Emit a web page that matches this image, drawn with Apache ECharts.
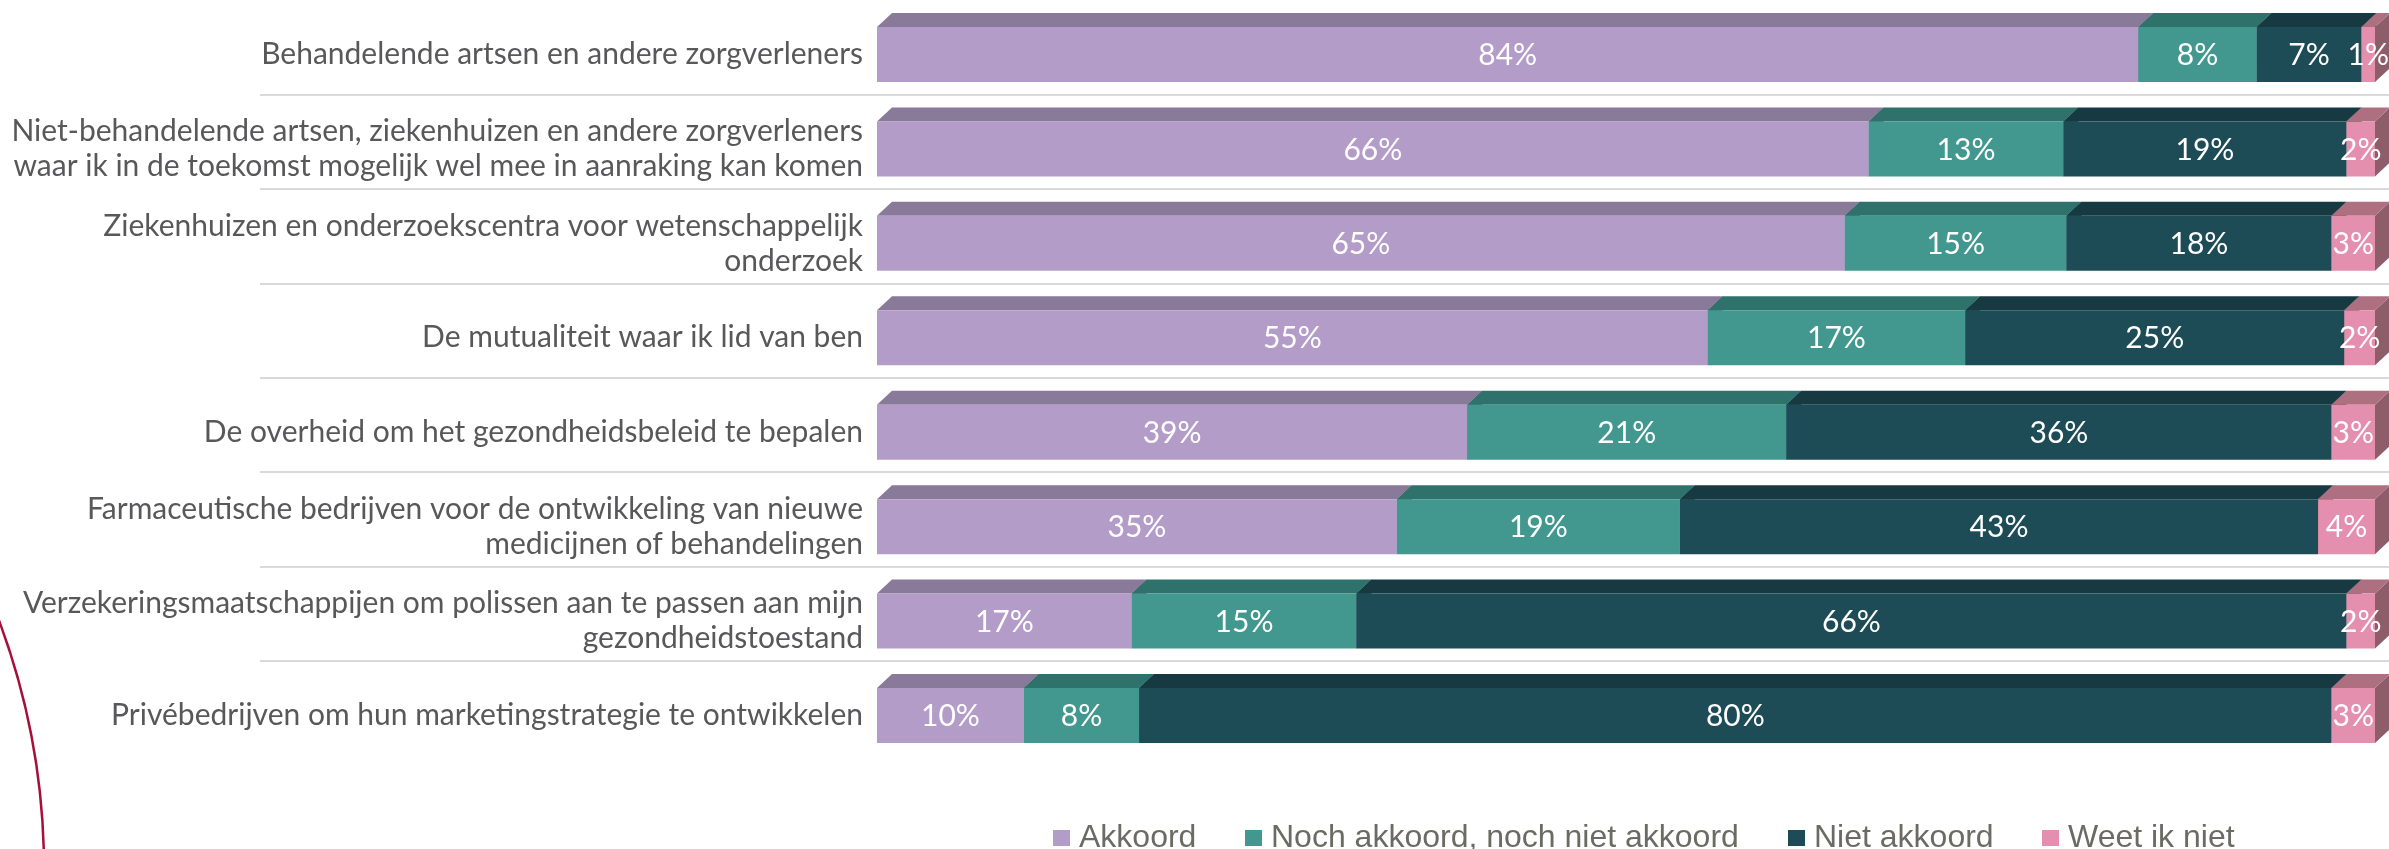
<!DOCTYPE html>
<html>
<head>
<meta charset="utf-8">
<script src="https://cdn.jsdelivr.net/npm/echarts@6/dist/echarts.min.js"></script>
<style>
html,body{margin:0;padding:0;background:#fff;}
#chart{width:2389px;height:849px;}
</style>
</head>
<body>
<div id="chart"></div>
<script>
const categories = [
  'Behandelende artsen en andere zorgverleners',
  'Niet-behandelende artsen, ziekenhuizen en andere zorgverleners\nwaar ik in de toekomst mogelijk wel mee in aanraking kan komen',
  'Ziekenhuizen en onderzoekscentra voor wetenschappelijk\nonderzoek',
  'De mutualiteit waar ik lid van ben',
  'De overheid om het gezondheidsbeleid te bepalen',
  'Farmaceutische bedrijven voor de ontwikkeling van nieuwe\nmedicijnen of behandelingen',
  'Verzekeringsmaatschappijen om polissen aan te passen aan mijn\ngezondheidstoestand',
  'Privébedrijven om hun marketingstrategie te ontwikkelen'
];
const seriesNames = ['Akkoord', 'Noch akkoord, noch niet akkoord', 'Niet akkoord', 'Weet ik niet'];
const akkoord = [84.2, 66.2, 64.6, 55.45, 39.4, 34.7, 17.0, 9.8];
const noch    = [7.9, 13.0, 14.8, 17.2, 21.3, 18.9, 15.0, 7.7];
const niet    = [7.0, 18.9, 17.7, 25.3, 36.4, 42.6, 66.1, 79.6];
const weet    = [0.9, 1.9, 2.9, 2.05, 2.9, 3.8, 1.9, 2.9];

const frontColors = ['#B49CC8', '#42978F', '#1D4C57', '#E38FAD'];
const topColors   = ['#8A7A9A', '#2F726C', '#173A42', '#AE7080'];
const sideColors  = ['#6E6280', '#245955', '#112D33', '#8E5D6A'];
const legendLefts = [1053, 1245, 1788, 2042];

const values = [akkoord, noch, niet, weet];

// stacked start/end built from the value arrays
const cum = categories.map(() => 0);
const stackedData = values.map(arr => arr.map((v, i) => {
  const s = cum[i];
  cum[i] += v;
  return [s, cum[i], i, v];
}));

const FRONT_RATIO = 55 / 94.43;
const DX_RATIO = 15 / 94.43;
const DY_RATIO = 14 / 94.43;
const LINE_OFF_RATIO = 7 / 94.43;

function makeRender(k) {
  return function (params, api) {
    const s = api.coord([api.value(0), api.value(2)]);
    const e = api.coord([api.value(1), api.value(2)]);
    const band = api.size([0, 1])[1];
    const h = band * FRONT_RATIO;
    const dx = band * DX_RATIO, dy = band * DY_RATIO;
    const cy = s[1];
    const y0 = cy - h / 2, y1 = cy + h / 2;
    const x0 = s[0], x1 = e[0];
    return {
      type: 'group',
      children: [
        { type: 'polygon', shape: { points: [[x1, y0], [x1 + dx, y0 - dy], [x1 + dx, y1 - dy], [x1, y1]] },
          style: { fill: sideColors[k] } },
        { type: 'polygon', shape: { points: [[x0, y0], [x1, y0], [x1 + dx, y0 - dy], [x0 + dx, y0 - dy]] },
          style: { fill: topColors[k] } },
        { type: 'rect', shape: { x: x0, y: y0, width: x1 - x0, height: h },
          style: { fill: frontColors[k] } },
        { type: 'text', x: (x0 + x1) / 2, y: cy + 1,
          style: { text: Math.round(api.value(3)) + '%', fill: '#ffffff', font: '30px Lato',
                   align: 'center', verticalAlign: 'middle' } }
      ]
    };
  };
}

const series = values.map((arr, k) => ({
  name: seriesNames[k],
  type: 'custom',
  renderItem: makeRender(k),
  encode: { x: [0, 1], y: 2 },
  itemStyle: { color: frontColors[k] },
  data: stackedData[k],
  clip: false,
  z: 3
}));

// separator lines between categories
series.push({
  type: 'custom',
  silent: true,
  clip: false,
  z: 1,
  encode: { y: 0 },
  data: categories.slice(0, -1).map((c, i) => [i]),
  renderItem: function (params, api) {
    const p = api.coord([0, api.value(0)]);
    const band = api.size([0, 1])[1];
    const y = Math.round(p[1] + band / 2 - band * LINE_OFF_RATIO);
    return { type: 'line', shape: { x1: 260, y1: y, x2: api.getWidth(), y2: y },
             style: { stroke: '#D9D9D9', lineWidth: 2 } };
  }
});

const chart = echarts.init(document.getElementById('chart'));
chart.setOption({
  animation: false,
  backgroundColor: '#ffffff',
  grid: { left: 877, right: 14, top: 7.3, bottom: 86.3, containLabel: false },
  xAxis: { type: 'value', min: 0, max: 100, show: false },
  yAxis: {
    type: 'category', data: categories, inverse: true,
    axisLine: { show: false }, axisTick: { show: false }, splitLine: { show: false },
    axisLabel: { fontFamily: 'Lato', fontSize: 30, color: '#58585A', lineHeight: 35,
                 margin: 14, align: 'right' }
  },
  legend: seriesNames.map((n, k) => ({
    data: [n], left: legendLefts[k], top: 822, padding: 0, icon: 'rect', itemWidth: 17, itemHeight: 16,
    textStyle: { fontFamily: 'Liberation Sans', fontSize: 32, color: '#6B6B63', padding: [0, 0, 0, 4] }
  })),
  graphic: [{
    type: 'arc',
    shape: { cx: -671, cy: 870, r: 715, startAngle: -0.37, endAngle: 0.05 },
    style: { stroke: '#A50F3A', lineWidth: 2.5, fill: null }
  }],
  series: series
});
</script>
</body>
</html>
